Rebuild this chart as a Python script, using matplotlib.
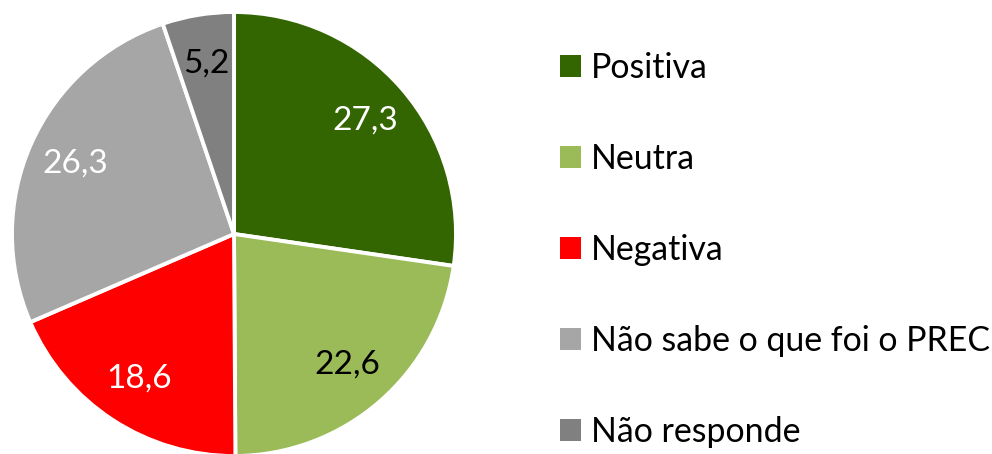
import matplotlib.pyplot as plt
from matplotlib.patches import Patch

categories = ['Positiva', 'Neutra', 'Negativa', 'Não sabe o que foi o PREC', 'Não responde']
values = [27.3, 22.6, 18.6, 26.3, 5.2]
colors = ['#336600', '#9BBB59', '#FF0000', '#A6A6A6', '#808080']
label_colors = ['white', 'black', 'white', 'white', 'black']

plt.rcParams['font.family'] = ['Lato', 'DejaVu Sans']

fig = plt.figure(figsize=(9.92, 4.54), dpi=100)
ax = fig.add_axes([12 / 992, -2 / 454, 444 / 992, 444 / 454])

wedges, texts, autotexts = ax.pie(
    values, colors=colors, startangle=90, counterclock=False,
    autopct='%.1f', pctdistance=0.78,
    wedgeprops=dict(edgecolor='white', linewidth=2.8),
    textprops=dict(fontsize=24))
for t, v, c in zip(autotexts, values, label_colors):
    t.set_text(f'{v:.1f}'.replace('.', ','))
    t.set_color(c)
ax.set_xlim(-1, 1)
ax.set_ylim(-1, 1)

handles = [Patch(facecolor=c, edgecolor='none') for c in colors]
fig.legend(handles, categories, loc='upper left', bbox_to_anchor=(560 / 992, 1 - 52 / 454),
           frameon=False, fontsize=24.4, handlelength=0.62, handleheight=0.62,
           handletextpad=0.3, labelspacing=1.74, borderaxespad=0, borderpad=0)

fig.savefig('out.png', dpi=100)
